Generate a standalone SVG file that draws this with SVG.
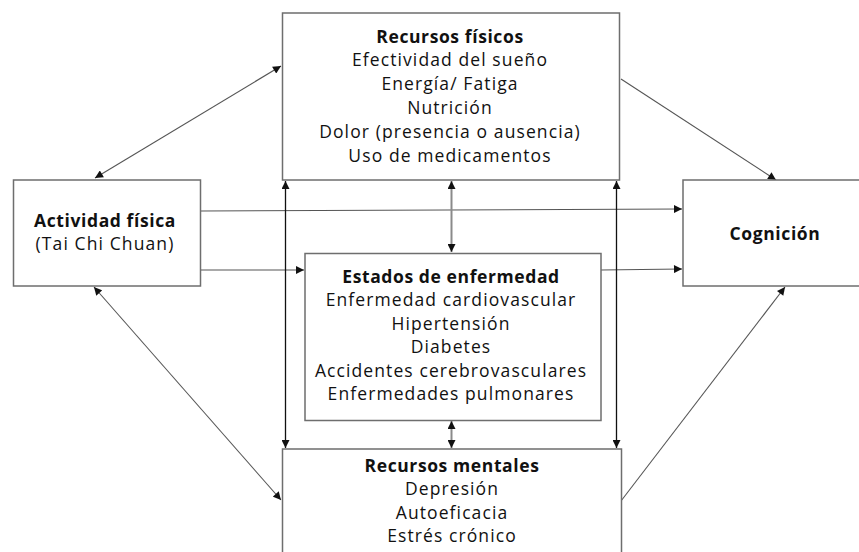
<svg xmlns="http://www.w3.org/2000/svg" width="859" height="552" viewBox="0 0 859 552">
<defs>
<style>
.box{fill:#fff;stroke:#6e6e6e;stroke-width:1.5}
.t{font-family:"Open Sans","Liberation Sans",sans-serif;font-size:17.5px;letter-spacing:1.1px;fill:#111;text-anchor:middle}
.b{font-weight:bold;letter-spacing:0.6px}
.c{fill:none;stroke:#555;stroke-width:1.1}
.k{fill:none;stroke:#111;stroke-width:1.3}
.g{fill:none;stroke:#8a8a8a;stroke-width:2}
</style>
<marker id="ah" viewBox="0 0 10 10" refX="10" refY="5" markerWidth="9" markerHeight="8" markerUnits="userSpaceOnUse" orient="auto-start-reverse">
<path d="M0,0 L10,5 L0,10 Z" fill="#111"/>
</marker>
</defs>
<g id="connectors">
<line class="c" x1="201" y1="211" x2="682" y2="209" marker-end="url(#ah)"/>
<line class="c" x1="201" y1="270" x2="304" y2="270" marker-end="url(#ah)"/>
<line class="c" x1="601" y1="270" x2="682" y2="269" marker-end="url(#ah)"/>
<line class="c" x1="95" y1="178" x2="281" y2="66" marker-start="url(#ah)" marker-end="url(#ah)"/>
<line class="c" x1="94" y1="287" x2="281" y2="500" marker-start="url(#ah)" marker-end="url(#ah)"/>
<line class="c" x1="621" y1="79" x2="776" y2="180" marker-end="url(#ah)"/>
<line class="c" x1="621" y1="501" x2="785" y2="287" marker-end="url(#ah)"/>
<line class="k" x1="285.5" y1="181" x2="285.5" y2="448" marker-start="url(#ah)" marker-end="url(#ah)"/>
<line class="k" x1="616.5" y1="181" x2="616.5" y2="448" marker-start="url(#ah)" marker-end="url(#ah)"/>
<line class="g" x1="451.5" y1="181" x2="451.5" y2="252" marker-start="url(#ah)" marker-end="url(#ah)"/>
<line class="g" x1="451.5" y1="421" x2="451.5" y2="448" marker-start="url(#ah)" marker-end="url(#ah)"/>
</g>
<g id="recursos-fisicos">
<rect class="box" x="282.5" y="13" width="337" height="167"/>
<text class="t b" x="450" y="43">Recursos físicos</text>
<text class="t" x="450" y="66">Efectividad del sueño</text>
<text class="t" x="450" y="90">Energía/ Fatiga</text>
<text class="t" x="450" y="114">Nutrición</text>
<text class="t" x="450" y="138">Dolor (presencia o ausencia)</text>
<text class="t" x="450" y="162">Uso de medicamentos</text>
</g>
<g id="actividad-fisica">
<rect class="box" x="13.5" y="180" width="187" height="106"/>
<text class="t b" x="105" y="227">Actividad física</text>
<text class="t" x="105" y="250">(Tai Chi Chuan)</text>
</g>
<g id="estados-enfermedad">
<rect class="box" x="305" y="253.5" width="296" height="167"/>
<text class="t b" x="451" y="283">Estados de enfermedad</text>
<text class="t" x="451" y="306">Enfermedad cardiovascular</text>
<text class="t" x="451" y="330">Hipertensión</text>
<text class="t" x="451" y="353">Diabetes</text>
<text class="t" x="451" y="377">Accidentes cerebrovasculares</text>
<text class="t" x="451" y="400">Enfermedades pulmonares</text>
</g>
<g id="cognicion">
<rect class="box" x="683" y="180" width="190" height="106"/>
<text class="t b" x="775" y="240">Cognición</text>
</g>
<g id="recursos-mentales">
<rect class="box" x="282.5" y="449" width="339" height="120"/>
<text class="t b" x="452" y="472">Recursos mentales</text>
<text class="t" x="452" y="495">Depresión</text>
<text class="t" x="452" y="519">Autoeficacia</text>
<text class="t" x="452" y="542">Estrés crónico</text>
</g>
</svg>
